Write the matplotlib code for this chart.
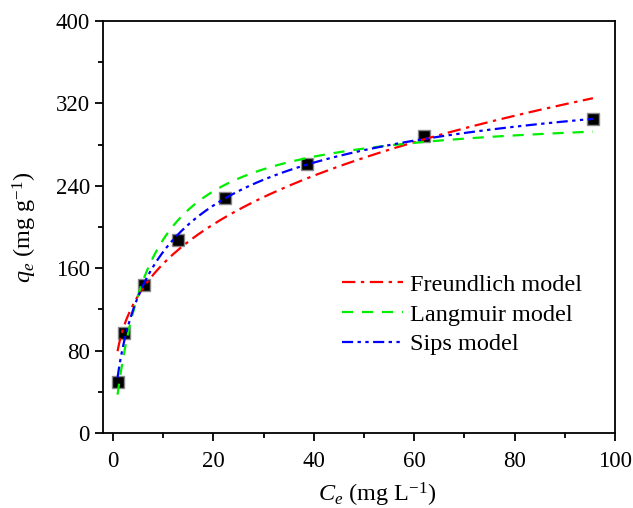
import numpy as np
import matplotlib
matplotlib.use("Agg")
import matplotlib.pyplot as plt
from matplotlib.ticker import MultipleLocator

plt.rcParams['font.family'] = ['Liberation Serif', 'DejaVu Serif']
plt.rcParams['mathtext.fontset'] = 'custom'
plt.rcParams['mathtext.it'] = 'Liberation Serif:italic'
plt.rcParams['mathtext.rm'] = 'Liberation Serif'

# experimental data
Ce = [1.0, 2.1, 6.2, 12.9, 22.4, 38.7, 61.9, 95.6]
qe = [49.5, 97.4, 143.7, 187.4, 227.9, 261.0, 288.3, 304.9]

# model parameters
freundlich_K, freundlich_inv_n = 82.0, 0.302
langmuir_qm, langmuir_K = 313.0, 0.15
sips_qm, sips_K, sips_n = 380.0, 0.0806, 0.687

C = np.linspace(0.9, 95.6, 300)
q_f = freundlich_K * C ** freundlich_inv_n
q_l = langmuir_qm * langmuir_K * C / (1 + langmuir_K * C)
u = (sips_K * C) ** sips_n
q_s = sips_qm * u / (1 + u)

fig = plt.figure(figsize=(6.33, 5.08), dpi=100)
ax = fig.add_axes([0.1627, 0.1476, 0.8089, 0.8111])

ax.plot(C, q_f, color='red', lw=1.6, dashes=[6, 2.5, 1.5, 2.5], label='Freundlich model', zorder=2)
ax.plot(C, q_l, color='#00ee00', lw=1.6, dashes=[5, 4], label='Langmuir model', zorder=2)
ax.plot(C, q_s, color='blue', lw=1.6, dashes=[5, 2, 1.5, 2, 1.5, 2], label='Sips model', zorder=2)
ax.plot(Ce, qe, 's', ms=9, mfc='black', mec='#888888', mew=1, zorder=1)

ax.set_xlim(-2, 100)
ax.set_ylim(0, 400)
ax.xaxis.set_major_locator(MultipleLocator(20))
ax.xaxis.set_minor_locator(MultipleLocator(10))
ax.yaxis.set_major_locator(MultipleLocator(80))
ax.yaxis.set_minor_locator(MultipleLocator(40))
ax.tick_params(which='both', direction='out', labelsize=16.5, width=1.3)
ax.tick_params(which='major', length=6)
ax.tick_params(which='minor', length=3.5)
ax.tick_params(axis='x', pad=7)
for s in ax.spines.values():
    s.set_linewidth(1.3)

ax.set_xlabel(r'$C_e$ (mg L$^{\mathregular{-1}}$)', fontsize=17.5, labelpad=4)
ax.xaxis.set_label_coords(0.535, -0.115)
ax.set_ylabel(r'$q_e$ (mg g$^{\mathregular{-1}}$)', fontsize=17.5, labelpad=12)

ax.legend(loc='upper left', bbox_to_anchor=(0.448, 0.41), frameon=False,
          fontsize=17.5, handlelength=2.5, handletextpad=0.3, labelspacing=0.32,
          borderaxespad=0)

fig.savefig('out.png', dpi=100)
